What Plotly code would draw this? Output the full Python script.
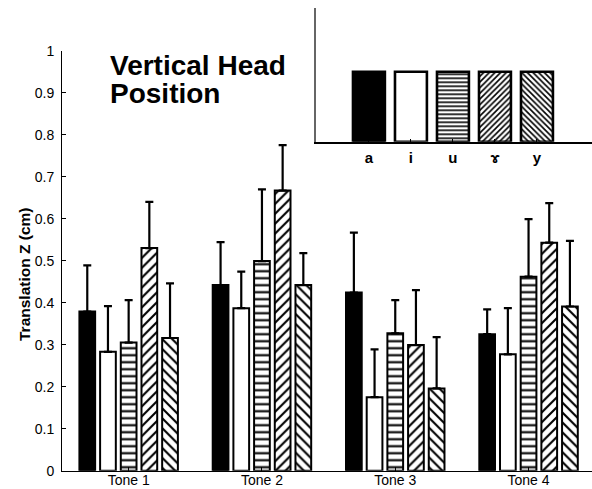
import plotly.graph_objects as go

# ---- data ----
tones = ["Tone 1", "Tone 2", "Tone 3", "Tone 4"]
vowels = ["a", "i", "u", "ɤ", "y"]
mean_a = [0.379, 0.442, 0.424, 0.325]
mean_i = [0.283, 0.387, 0.175, 0.277]
mean_u = [0.305, 0.499, 0.327, 0.462]
mean_r = [0.530, 0.667, 0.299, 0.543]
mean_y = [0.316, 0.442, 0.196, 0.391]
err_a = [0.110, 0.102, 0.143, 0.059]
err_i = [0.109, 0.087, 0.114, 0.110]
err_u = [0.101, 0.171, 0.079, 0.137]
err_r = [0.110, 0.108, 0.131, 0.094]
err_y = [0.130, 0.076, 0.122, 0.156]
y_ticks = [0, 0.1, 0.2, 0.3, 0.4, 0.5, 0.6, 0.7, 0.8, 0.9, 1]
y_ticktext = ["0", "0.1", "0.2", "0.3", "0.4", "0.5", "0.6", "0.7", "0.8", "0.9", "1"]
legend_heights = [1, 1, 1, 1, 1]
title_lines = ["Vertical Head", "Position"]
y_title = "Translation Z (cm)"

W, H = 592, 489
FONT = "Liberation Sans, Arial, Helvetica, sans-serif"

means = [mean_a, mean_i, mean_u, mean_r, mean_y]
errs = [err_a, err_i, err_u, err_r, err_y]
fills = ["black", "white", "white", "white", "white"]
shapes = ["", "", "-", "/", "\\"]

fig = go.Figure()
for k in range(5):
    fig.add_trace(go.Bar(
        x=tones, y=means[k], name=vowels[k],
        marker=dict(
            color=fills[k],
            line=dict(color="black", width=2),
            pattern=dict(shape=shapes[k], fgcolor="black", bgcolor=fills[k],
                         size=7, solidity=0.3, fillmode="replace"),
        ),
        error_y=dict(type="data", array=errs[k], arrayminus=[0] * 4,
                     symmetric=False, color="black", thickness=2.2, width=4),
        showlegend=False, hoverinfo="skip",
        xaxis="x", yaxis="y",
    ))

# inset legend-like bars (one trace per vowel, explicit offset so no grouping)
for k in range(5):
    fig.add_trace(go.Bar(
        x=[vowels[k]], y=[legend_heights[k]], width=0.76, offset=-0.38,
        marker=dict(
            color=fills[k],
            line=dict(color="black", width=2.6),
            pattern=dict(shape=shapes[k], fgcolor="black", bgcolor=fills[k],
                         size=4, solidity=0.4, fillmode="replace"),
        ),
        showlegend=False, hoverinfo="skip", xaxis="x2", yaxis="y2",
    ))

def px_x(p):
    return p / W

def px_y(p):
    return 1 - p / H

fig.update_layout(
    width=W, height=H, autosize=False,
    margin=dict(l=0, r=0, t=0, b=0, pad=0),
    paper_bgcolor="white", plot_bgcolor="rgba(0,0,0,0)",
    barmode="group", bargap=0.224, bargroupgap=0.24,
    font=dict(family=FONT, color="black", size=14),
    xaxis=dict(
        domain=[px_x(62), 1.0], range=[-0.5, 3.476], automargin=False,
        showline=True, linecolor="black", linewidth=1,
        ticks="inside", ticklen=4, tickcolor="black",
        showgrid=False, zeroline=False, fixedrange=True,
        tickfont=dict(size=14, family=FONT), ticklabelstandoff=-4,
    ),
    yaxis=dict(
        domain=[px_y(470.7), px_y(50.7)], range=[0, 1], automargin=False,
        tickvals=y_ticks, ticktext=y_ticktext,
        showline=True, linecolor="black", linewidth=1,
        ticks="inside", ticklen=4, tickcolor="black",
        showgrid=False, zeroline=False, fixedrange=True,
        tickfont=dict(size=14, family=FONT), ticklabelstandoff=4,
    ),
    xaxis2=dict(
        domain=[px_x(316), 1.0], range=[-1.26, 5.31], anchor="y2", automargin=False,
        showline=True, linecolor="black", linewidth=1.5,
        ticks="inside", ticklen=3, tickcolor="black",
        showgrid=False, zeroline=False, fixedrange=True,
        tickvals=vowels, ticktext=["<b>" + v + "</b>" for v in vowels],
        tickfont=dict(size=15, family=FONT), ticklabelstandoff=2,
    ),
    yaxis2=dict(
        domain=[px_y(141.7), px_y(8.3)], range=[0, 1.906], anchor="x2", automargin=False,
        showline=True, linecolor="#666666", linewidth=2, fixedrange=True,
        showticklabels=False, ticks="", showgrid=False, zeroline=False,
    ),
)

fig.add_annotation(text="<b>" + y_title + "</b>", xref="paper", yref="paper",
                   x=px_x(24), y=px_y(274), xanchor="center", yanchor="middle",
                   textangle=-90, showarrow=False, font=dict(size=15.5, family=FONT))
fig.add_annotation(text="<b>" + title_lines[0] + "</b>", xref="paper", yref="paper",
                   x=px_x(108), y=px_y(65), xanchor="left", yanchor="middle",
                   showarrow=False, font=dict(size=28, family=FONT))
fig.add_annotation(text="<b>" + title_lines[1] + "</b>", xref="paper", yref="paper",
                   x=px_x(108), y=px_y(94), xanchor="left", yanchor="middle",
                   showarrow=False, font=dict(size=28, family=FONT))

fig.write_html("out.html", config={"displayModeBar": False, "responsive": False},
               post_script="document.body.style.margin='0px';document.body.style.padding='0px';document.body.style.overflow='hidden';")
